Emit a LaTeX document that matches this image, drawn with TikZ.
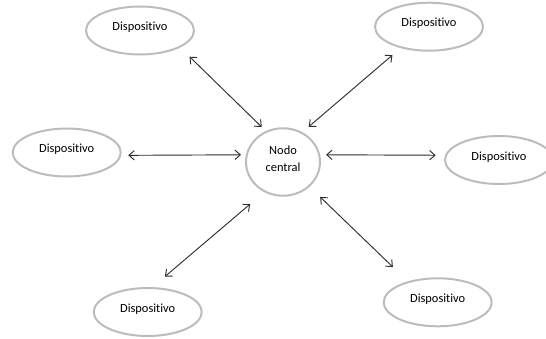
\documentclass[tikz,border=0pt]{standalone}
\usepackage{fontspec}
\setmainfont[Ligatures=NoCommon]{Carlito}
\usetikzlibrary{arrows.meta}
\usetikzlibrary{shapes.geometric}
\definecolor{rimgray}{RGB}{188,188,188}
\definecolor{linkgray}{RGB}{45,45,45}
\tikzset{
  rim/.style={draw=rimgray, line width=1.5pt, ellipse, inner sep=0pt, font=\fontsize{9.3}{12.5}\selectfont},
  device/.style={rim, minimum width=81pt, minimum height=36pt, text height=6pt, text depth=6pt},
  hub/.style={rim, minimum width=55.5pt, minimum height=50.6pt, align=center, text depth=4.5pt},
  link/.style={draw=linkgray, line width=0.7pt, {Straight Barb[length=4pt,width=7pt]}-{Straight Barb[length=4pt,width=7pt]}}
}
\begin{document}
\begin{tikzpicture}[x=0.75pt,y=0.75pt,yscale=-1,xscale=1]
\useasboundingbox (0,0) rectangle (546,339);

%Shape: Ellipse [hub]
\node[hub] (hub) at (283,162) {Nodo\\central};
%Shape: Ellipse [devices]
\node[device] (devTL) at (140,30.5) {Dispositivo};
\node[device] (devTR) at (429,26.7) {Dispositivo};
\node[device] (devL) at (66.7,152.5) {Dispositivo};
\node[device] (devR) at (499,160) {Dispositivo};
\node[device] (devBL) at (147.7,312) {Dispositivo};
\node[device] (devBR) at (437.7,302.3) {Dispositivo};

%Straight Lines [links]
\draw[link, shorten <=9.8pt, shorten >=4.3pt] (devTL.-23) -- (hub.119);
\draw[link, shorten <=8pt, shorten >=6.2pt] (devTR.217) -- (hub.57);
\draw[link, shorten <=5.2pt, shorten >=3.6pt] (devL.-3) -- (hub.169);
\draw[link, shorten <=4.4pt, shorten >=7pt] (hub.11) -- (devR.175);
\draw[link, shorten <=13.8pt, shorten >=12.2pt] (hub.238) -- (devBL.79);
\draw[link, shorten <=11pt, shorten >=15.5pt] (hub.-43) -- (devBR.145);

\end{tikzpicture}
\end{document}
